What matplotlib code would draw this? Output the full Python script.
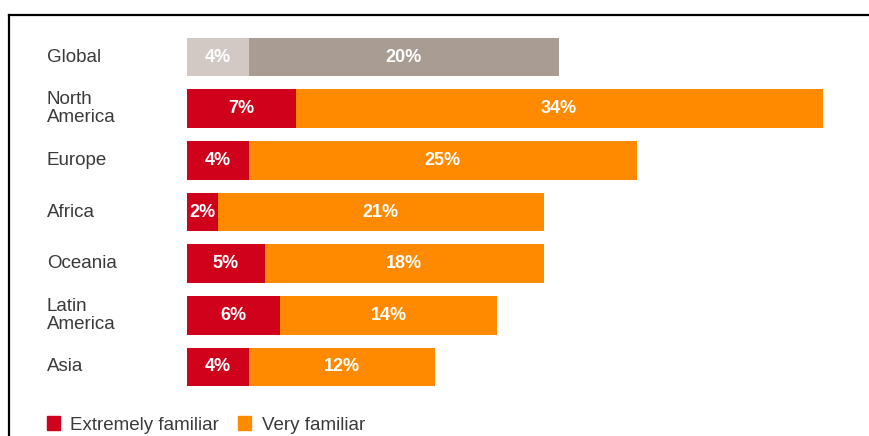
import numpy as np
import matplotlib.pyplot as plt
from matplotlib.lines import Line2D
from matplotlib.patches import Patch
import matplotlib.transforms as mtransforms

plt.rcParams['font.family'] = ['Liberation Sans', 'DejaVu Sans']

regions = ["Global", "North\nAmerica", "Europe", "Africa", "Oceania", "Latin\nAmerica", "Asia"]
extremely = [4, 7, 4, 2, 5, 6, 4]
very = [20, 34, 25, 21, 18, 14, 12]
legend_labels = ["Extremely familiar", "Very familiar"]

red = "#D0021B"
orange = "#FF8A00"
grey_light = "#D2C9C4"
grey_dark = "#A99C93"
text_col = "#3a3a3a"

W, H = 869, 436
fig = plt.figure(figsize=(W / 100, H / 100), dpi=100)

# 1% ~ 15.5 px, bars start at x=187
px_per = 15.5
xmax = (W - 187) / px_per
top_px, bot_px = 57 - 25.8, 367 + 25.8
ax = fig.add_axes([187 / W, 1 - bot_px / H, 1 - 187 / W, (bot_px - top_px) / H])

y = np.arange(len(regions))
c1 = [grey_light] + [red] * (len(regions) - 1)
c2 = [grey_dark] + [orange] * (len(regions) - 1)
ax.barh(y, extremely, height=0.75, color=c1)
ax.barh(y, very, left=extremely, height=0.75, color=c2)

for i in range(len(regions)):
    ax.text(extremely[i] / 2, y[i], f"{extremely[i]}%", ha='center', va='center',
            color='white', fontsize=13, fontweight='bold')
    ax.text(extremely[i] + very[i] / 2, y[i], f"{very[i]}%", ha='center', va='center',
            color='white', fontsize=13, fontweight='bold')

ax.set_xlim(0, xmax)
ax.set_ylim(len(regions) - 0.5, -0.5)
ax.axis('off')

trans = mtransforms.blended_transform_factory(fig.transFigure, ax.transData)
for i, name in enumerate(regions):
    fig.text(47 / W, y[i], name, transform=trans, ha='left', va='center',
             fontsize=13.5, color=text_col, linespacing=1.1)

# legend
handles = [Patch(color=red), Patch(color=orange)]
fig.legend(handles, legend_labels, loc='center left', bbox_to_anchor=(47 / W, 1 - 425 / H),
           ncol=2, frameon=False, handlelength=0.7, handleheight=0.7, handletextpad=0.55,
           columnspacing=1.0, borderaxespad=0, borderpad=0, fontsize=13.5,
           labelcolor=text_col)

# frame of the screenshot
fig.add_artist(Line2D([9 / W, 1], [1 - 15 / H, 1 - 15 / H], transform=fig.transFigure,
                      color='black', lw=1.6))
fig.add_artist(Line2D([9 / W, 9 / W], [0, 1 - 15 / H], transform=fig.transFigure,
                      color='black', lw=1.6))

fig.savefig("out.png", dpi=100)
